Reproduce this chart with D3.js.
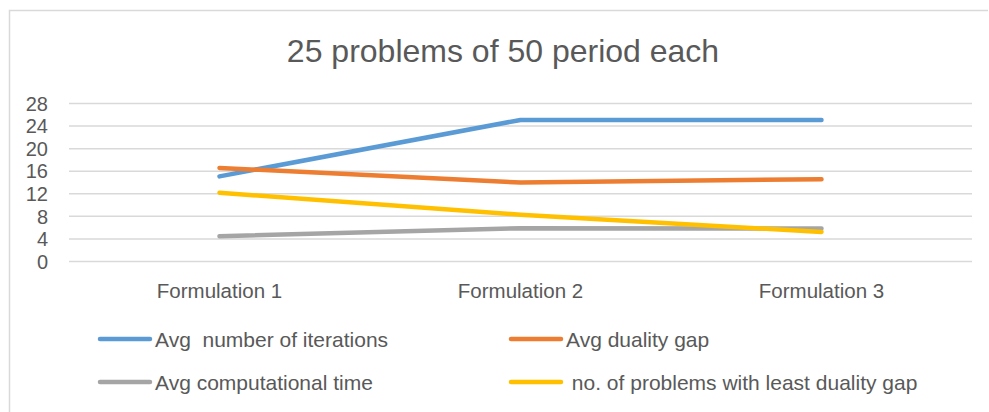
<!DOCTYPE html>
<html>
<head>
<meta charset="utf-8">
<script src="https://cdn.jsdelivr.net/npm/d3@7"></script>
<style>
  html, body { margin: 0; padding: 0; background: #fff; }
  svg { display: block; }
  text { font-family: "Liberation Sans", Arial, sans-serif; fill: #595959; }
</style>
</head>
<body>
<svg id="chart" width="989" height="412"></svg>
<script>
const categories = ["Formulation 1", "Formulation 2", "Formulation 3"];
const seriesNames = [
  "Avg  number of iterations",
  "Avg duality gap",
  "Avg computational time",
  " no. of problems with least duality gap"
];
const iterations = [15, 25, 25];
const dualityGap = [16.5, 13.9, 14.5];
const compTime = [4.4, 5.8, 5.75];
const leastGapCount = [12.1, 8.2, 5.15];
const yTicks = [0, 4, 8, 12, 16, 20, 24, 28];
const colors = ["#5b9bd5", "#ed7d31", "#a5a5a5", "#ffc000"];
const title = "25 problems of 50 period each";

const series = [iterations, dualityGap, compTime, leastGapCount];

const svg = d3.select("#chart");
const W = 989, H = 412;

// chart area frame
svg.append("path")
  .attr("d", `M9.5,${H} V10.5 H${W - 1}`)
  .attr("fill", "none")
  .attr("stroke", "#d9d9d9")
  .attr("stroke-width", 1.5);

const plot = { left: 69, right: 972, top: 103, bottom: 261 };

const x = d3.scaleBand().domain(categories).range([plot.left, plot.right]);
const y = d3.scaleLinear().domain([0, 28]).range([plot.bottom, plot.top]);

// title
svg.append("text")
  .attr("x", 503).attr("y", 62)
  .attr("text-anchor", "middle")
  .style("font-size", "32px")
  .text(title);

// gridlines and value labels
const yAxis = d3.axisLeft(y).tickValues(yTicks).tickSize(-(plot.right - plot.left)).tickPadding(21);
const gy = svg.append("g").attr("transform", `translate(${plot.left},0)`).call(yAxis);
gy.select(".domain").remove();
gy.selectAll(".tick line").attr("stroke", "#d9d9d9").attr("stroke-width", 1.5);
gy.selectAll(".tick text")
  .attr("fill", "#595959")
  .style("font-size", "20px")
  .attr("dy", "0.36em");

// category axis labels
const xAxis = d3.axisBottom(x).tickSize(0).tickPadding(22);
const gx = svg.append("g").attr("transform", `translate(0,${plot.bottom})`).call(xAxis);
gx.select(".domain").remove();
gx.selectAll(".tick text").attr("fill", "#595959").style("font-size", "20.5px");

// series lines
const line = d3.line()
  .x((d, i) => x(categories[i]) + x.bandwidth() / 2)
  .y(d => y(d));

svg.append("g").selectAll("path")
  .data(series)
  .join("path")
  .attr("d", d => line(d))
  .attr("fill", "none")
  .attr("stroke", (d, i) => colors[i])
  .attr("stroke-width", 4.5)
  .attr("stroke-linecap", "round")
  .attr("stroke-linejoin", "round");

// legend
const legendPos = [
  { lx: 100, ly: 339 },
  { lx: 511, ly: 339 },
  { lx: 100, ly: 382 },
  { lx: 511, ly: 382 }
];
const lg = svg.append("g").selectAll("g")
  .data(seriesNames)
  .join("g")
  .attr("transform", (d, i) => `translate(${legendPos[i].lx},${legendPos[i].ly})`);
lg.append("line")
  .attr("x1", 0).attr("x2", 50)
  .attr("stroke", (d, i) => colors[i])
  .attr("stroke-width", 4.5)
  .attr("stroke-linecap", "round");
lg.append("text")
  .attr("x", 55).attr("y", 0)
  .attr("dy", "0.36em")
  .style("font-size", "21px")
  .style("white-space", "pre")
  .text(d => d);
</script>
</body>
</html>
